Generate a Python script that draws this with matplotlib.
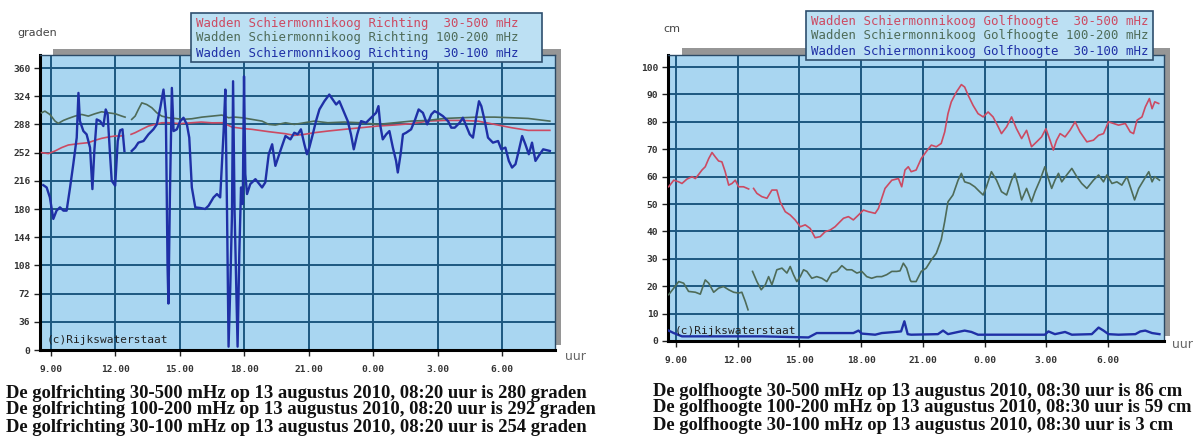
import numpy as np
import matplotlib
matplotlib.use("Agg")
import matplotlib.pyplot as plt
from matplotlib.patches import Rectangle

W, H = 1198, 446
nan = float("nan")

# x axis in hours; values above 24 are the next morning
HOUR_TICKS = [9, 12, 15, 18, 21, 24, 27, 30]
HOUR_LABELS = ["9.00", "12.00", "15.00", "18.00", "21.00", "0.00", "3.00", "6.00"]
DIR_TICKS = list(range(0, 361, 36))
HGT_TICKS = list(range(0, 101, 10))

DIR_LEGEND = ["Wadden Schiermonnikoog Richting  30-500 mHz",
              "Wadden Schiermonnikoog Richting 100-200 mHz",
              "Wadden Schiermonnikoog Richting  30-100 mHz"]
HGT_LEGEND = ["Wadden Schiermonnikoog Golfhoogte  30-500 mHz",
              "Wadden Schiermonnikoog Golfhoogte 100-200 mHz",
              "Wadden Schiermonnikoog Golfhoogte  30-100 mHz"]
DIR_CAPTION = ["De golfrichting 30-500 mHz op 13 augustus 2010, 08:20 uur is 280 graden",
               "De golfrichting 100-200 mHz op 13 augustus 2010, 08:20 uur is 292 graden",
               "De golfrichting 30-100 mHz op 13 augustus 2010, 08:20 uur is 254 graden"]
HGT_CAPTION = ["De golfhoogte 30-500 mHz op 13 augustus 2010, 08:30 uur is 86 cm",
               "De golfhoogte 100-200 mHz op 13 augustus 2010, 08:30 uur is 59 cm",
               "De golfhoogte 30-100 mHz op 13 augustus 2010, 08:30 uur is 3 cm"]

# wave direction (graden), (hour, value) pairs, nan = gap in the record
DIR_30_500 = [
    (8.56, 252.0), (8.88, 250.7), (9.19, 254.1), (9.50, 258.4), (9.81, 261.7),
    (10.28, 263.4), (10.74, 264.7), (11.05, 267.7), (11.36, 270.2), (11.67, 271.9),
    (11.99, 273.2), (12.22, 273.2), (12.37, 273.6), (12.55, nan), (12.73, 275.3),
    (12.92, 277.4), (13.23, 281.7), (13.54, 285.9), (13.85, 288.0), (14.16, 290.1),
    (14.47, 290.1), (15.0, 289.0), (15.5, 290.0), (16.0, 291.0), (16.5, 290.0),
    (17.0, 290.1), (17.43, 284.6), (17.90, 282.9), (18.36, 281.7), (19.14, 278.7),
    (19.92, 276.1), (20.33, 274.0), (20.80, 275.3), (21.26, 277.4), (21.89, 279.5),
    (22.66, 281.7), (23.44, 283.8), (24.22, 285.9), (25.00, 287.2), (25.77, 288.9),
    (26.55, 292.2), (27.33, 293.1), (28.11, 293.1), (28.88, 292.2), (29.66, 288.0),
    (30.44, 283.8), (31.22, 280.4), (32.23, 280.4)]
DIR_100_200 = [
    (8.56, 302.8), (8.72, 304.9), (8.95, 300.7), (9.19, 292.2), (9.34, 289.3),
    (9.58, 293.1), (9.81, 295.6), (10.12, 298.6), (10.43, 300.7), (10.74, 298.6),
    (11.05, 301.6), (11.36, 304.1), (11.67, 302.8), (11.99, 301.6), (12.30, 298.6),
    (12.45, 297.3), (12.6, nan), (12.76, 294.4), (12.92, 298.6), (13.07, 307.1),
    (13.23, 315.5), (13.46, 313.4), (13.70, 309.2), (13.93, 302.8), (14.16, 298.6),
    (14.47, 296.5), (14.79, 295.6), (15.10, 294.4), (15.56, 295.2), (16.03, 297.3),
    (16.50, 298.6), (16.96, 299.9), (17.27, 296.5), (17.58, 297.3), (17.90, 296.5),
    (18.36, 294.4), (18.83, 292.2), (19.14, 288.0), (19.45, 287.2), (19.92, 290.1),
    (20.33, 288.0), (20.80, 290.1), (21.26, 292.2), (21.89, 290.1), (22.66, 291.0),
    (23.44, 290.1), (24.22, 288.0), (25.00, 290.1), (25.77, 292.2), (26.55, 293.1),
    (27.33, 295.6), (28.11, 296.5), (28.88, 297.3), (29.66, 297.3), (30.44, 296.5),
    (31.22, 295.6), (32.23, 292.2)]
DIR_30_100 = [
    (8.64, 210.5), (8.80, 207.5), (8.95, 194.8), (9.11, 167.3), (9.26, 177.9),
    (9.42, 182.1), (9.58, 177.9), (9.73, 177.9), (9.89, 207.5), (10.04, 237.2),
    (10.20, 271.1), (10.28, 328.2), (10.35, 292.2), (10.51, 279.5), (10.66, 275.3),
    (10.82, 258.4), (10.93, 205.4), (11.02, 254.1), (11.13, 294.4), (11.29, 292.2),
    (11.44, 285.9), (11.55, 307.1), (11.64, 300.7), (11.75, 249.9), (11.83, 216.0),
    (11.99, 209.7), (12.11, 266.8), (12.22, 280.4), (12.33, 281.7), (12.42, 254.1),
    (12.6, nan), (12.76, 254.1), (12.92, 258.4), (13.07, 264.7), (13.31, 266.8),
    (13.54, 275.3), (13.77, 281.7), (13.93, 288.0), (14.09, 309.2), (14.24, 332.5),
    (14.35, 300.7), (14.43, 105.9), (14.47, 59.3), (14.54, 199.1), (14.63, 334.6),
    (14.71, 279.5), (14.86, 281.7), (15.02, 292.2), (15.17, 296.5), (15.33, 288.0),
    (15.44, 271.1), (15.56, 207.5), (15.72, 182.1), (15.95, 181.3), (16.18, 180.0),
    (16.34, 184.2), (16.57, 194.8), (16.73, 199.1), (16.88, 194.8), (17.04, 279.5),
    (17.12, 332.5), (17.20, 173.7), (17.27, 4.3), (17.35, 80.5), (17.43, 173.7),
    (17.48, 343.1), (17.55, 177.9), (17.63, 80.5), (17.69, 4.3), (17.77, 122.8),
    (17.85, 207.5), (17.93, 186.4), (17.99, 349.4), (18.05, 224.5), (18.13, 199.1),
    (18.28, 211.8), (18.52, 218.1), (18.83, 207.5), (18.98, 213.9), (19.14, 249.9),
    (19.30, 262.6), (19.45, 235.1), (19.68, 254.1), (19.92, 273.2), (20.15, 268.9),
    (20.33, 277.4), (20.49, 275.3), (20.64, 281.7), (20.80, 262.6), (20.92, 249.9),
    (21.03, 258.4), (21.19, 275.3), (21.34, 292.2), (21.50, 307.1), (21.73, 317.6),
    (21.96, 326.1), (22.12, 319.8), (22.28, 313.4), (22.43, 317.6), (22.66, 302.8),
    (22.82, 292.2), (22.97, 275.3), (23.10, 256.2), (23.26, 275.3), (23.44, 292.2),
    (23.67, 290.1), (23.91, 296.5), (24.14, 302.8), (24.25, 311.3), (24.34, 285.9),
    (24.45, 268.9), (24.61, 275.3), (24.76, 279.5), (24.92, 258.4), (25.07, 241.4),
    (25.15, 226.6), (25.28, 249.9), (25.39, 275.3), (25.54, 277.4), (25.77, 281.7),
    (25.96, 294.4), (26.12, 307.1), (26.32, 302.8), (26.52, 288.0), (26.71, 300.7),
    (26.86, 304.9), (27.02, 302.8), (27.25, 298.6), (27.49, 292.2), (27.64, 283.8),
    (27.80, 283.8), (28.03, 290.1), (28.18, 296.5), (28.34, 285.9), (28.50, 275.3),
    (28.65, 271.1), (28.81, 298.6), (28.93, 317.6), (29.04, 311.3), (29.20, 292.2),
    (29.35, 271.1), (29.58, 264.7), (29.82, 266.8), (29.97, 256.2), (30.16, 258.4),
    (30.32, 241.4), (30.47, 232.9), (30.63, 237.2), (30.78, 254.1), (30.94, 273.2),
    (31.09, 262.6), (31.25, 249.9), (31.40, 264.7), (31.56, 241.4), (31.76, 249.9),
    (31.92, 256.2), (32.23, 254.1)]

# wave height (cm)
HGT_30_500 = [
    (8.64, 56.3), (8.89, 58.7), (9.13, 58.1), (9.29, 57.5), (9.53, 59.1),
    (9.78, 60.0), (9.94, 59.3), (10.10, 60.8), (10.26, 62.4), (10.42, 63.6),
    (10.59, 66.6), (10.75, 68.8), (10.91, 67.2), (11.07, 65.7), (11.23, 65.4),
    (11.39, 61.8), (11.56, 56.9), (11.72, 57.5), (11.88, 58.7), (12.04, 56.3),
    (12.28, 56.3), (12.53, 55.5), (12.65, nan), (12.77, 55.7), (12.93, 53.9),
    (13.17, 52.7), (13.42, 52.1), (13.66, 55.1), (13.90, 55.1), (14.06, 50.8),
    (14.31, 47.2), (14.55, 46.0), (14.79, 44.2), (15.04, 41.7), (15.28, 42.4),
    (15.52, 41.1), (15.76, 37.7), (16.01, 38.1), (16.25, 39.9), (16.49, 40.5),
    (16.73, 41.7), (16.98, 43.6), (17.14, 44.8), (17.38, 45.4), (17.62, 44.2),
    (17.87, 46.0), (18.11, 47.8), (18.35, 47.2), (18.68, 46.6), (18.84, 48.4),
    (19.00, 52.1), (19.16, 55.7), (19.49, 58.7), (19.81, 59.3), (19.97, 56.3),
    (20.13, 62.4), (20.29, 63.6), (20.43, 61.8), (20.67, 62.4), (20.92, 66.6),
    (21.16, 69.1), (21.41, 71.5), (21.65, 70.9), (21.89, 72.1), (22.06, 76.3),
    (22.22, 83.0), (22.38, 87.3), (22.63, 90.9), (22.87, 93.6), (23.03, 92.7),
    (23.20, 89.7), (23.44, 86.0), (23.68, 83.0), (23.93, 81.8), (24.17, 83.6),
    (24.41, 81.8), (24.66, 78.2), (24.82, 75.7), (25.07, 78.2), (25.31, 81.8),
    (25.55, 77.5), (25.80, 73.9), (26.04, 76.9), (26.28, 70.9), (26.53, 72.7),
    (26.77, 74.5), (26.98, 77.5), (27.18, 73.3), (27.34, 69.7), (27.50, 73.3),
    (27.67, 75.7), (27.91, 74.5), (28.15, 76.9), (28.40, 80.0), (28.64, 76.3),
    (28.97, 72.7), (29.29, 73.3), (29.54, 75.1), (29.78, 75.7), (30.02, 80.0),
    (30.27, 79.4), (30.51, 78.8), (30.84, 79.4), (31.08, 76.3), (31.24, 75.7),
    (31.41, 80.6), (31.65, 81.8), (31.81, 85.4), (32.01, 88.5), (32.14, 84.8),
    (32.27, 87.3), (32.46, 86.7)]
HGT_100_200 = [
    (8.64, 16.9), (8.89, 19.3), (9.13, 21.7), (9.37, 21.1), (9.61, 18.1),
    (9.94, 17.8), (10.18, 17.1), (10.42, 22.3), (10.59, 21.1), (10.83, 17.8),
    (11.07, 19.3), (11.31, 19.9), (11.56, 18.7), (11.80, 17.8), (12.04, 17.5),
    (12.20, 17.8), (12.37, 14.4), (12.50, 11.4), (12.6, nan), (12.72, 25.4),
    (12.93, 21.7), (13.14, 18.7), (13.34, 20.5), (13.50, 23.5), (13.66, 20.5),
    (13.90, 26.0), (14.15, 26.6), (14.39, 24.8), (14.55, 27.2), (14.71, 24.2),
    (14.87, 21.7), (15.04, 23.5), (15.20, 26.0), (15.36, 25.4), (15.60, 22.9),
    (15.84, 23.5), (16.09, 22.9), (16.33, 21.7), (16.57, 24.8), (16.82, 25.4),
    (17.06, 27.5), (17.30, 26.0), (17.54, 26.0), (17.79, 24.8), (18.03, 25.4),
    (18.27, 23.5), (18.51, 22.9), (18.76, 23.5), (19.00, 23.5), (19.24, 24.2),
    (19.49, 25.4), (19.73, 25.4), (19.89, 25.6), (20.05, 28.4), (20.21, 26.6),
    (20.38, 22.3), (20.43, 21.7), (20.67, 21.7), (20.92, 25.4), (21.16, 26.6),
    (21.41, 29.6), (21.65, 32.0), (21.89, 36.9), (22.06, 43.6), (22.22, 50.8),
    (22.46, 53.3), (22.71, 58.7), (22.87, 61.2), (23.03, 58.1), (23.28, 57.5),
    (23.52, 56.3), (23.76, 54.5), (23.93, 53.3), (24.09, 56.3), (24.33, 61.8),
    (24.58, 58.7), (24.82, 54.5), (25.07, 53.3), (25.31, 58.7), (25.47, 61.2),
    (25.63, 56.9), (25.80, 51.5), (26.04, 55.7), (26.28, 50.8), (26.45, 54.5),
    (26.69, 58.7), (26.93, 63.6), (27.10, 59.3), (27.26, 55.7), (27.42, 58.7),
    (27.59, 61.2), (27.75, 58.1), (27.99, 60.6), (28.24, 63.0), (28.48, 60.0),
    (28.72, 57.5), (28.97, 55.7), (29.29, 58.7), (29.54, 60.6), (29.78, 58.1),
    (29.94, 60.6), (30.19, 57.5), (30.43, 58.1), (30.67, 56.9), (30.92, 60.0),
    (31.16, 54.5), (31.29, 51.5), (31.49, 55.7), (31.73, 58.7), (31.98, 61.8),
    (32.14, 58.1), (32.27, 60.0), (32.50, 58.7)]
HGT_30_100 = [
    (8.64, 3.8), (8.89, 2.9), (9.29, 1.7), (10.75, 1.7), (13.17, 1.7),
    (15.44, 1.3), (15.84, 2.9), (17.62, 2.9), (17.87, 3.8), (18.03, 2.7),
    (18.68, 2.3), (19.00, 2.9), (19.65, 3.3), (19.94, 3.5), (20.10, 7.2),
    (20.26, 2.5), (20.43, 2.3), (21.73, 2.5), (21.98, 3.8), (22.22, 2.5),
    (22.71, 3.3), (23.03, 3.8), (23.36, 3.3), (23.68, 2.3), (26.93, 2.3),
    (27.10, 3.5), (27.42, 2.5), (27.91, 3.3), (28.24, 2.3), (29.21, 2.5),
    (29.54, 4.9), (29.78, 3.8), (30.02, 2.5), (30.51, 2.3), (31.33, 2.5),
    (31.57, 3.5), (31.81, 3.8), (32.14, 2.9), (32.50, 2.5)]

BG = "#A9D6F1"
GRID = "#1D5880"
COLORS = ["#CC4A62", "#4E6B58", "#1F30A6"]
WIDTHS = [1.2, 1.2, 1.7]
MONO = "DejaVu Sans Mono"


def frac(x0, y0, x1, y1):
    """pixel box (top-left origin) -> figure fraction rect"""
    return [x0 / W, 1 - y1 / H, (x1 - x0) / W, (y1 - y0) / H]


def fig_rect(fig, box, **kw):
    l, b, w, h = frac(*box)
    fig.add_artist(Rectangle((l, b), w, h, transform=fig.transFigure, **kw))


def ftext(fig, x, y, s, **kw):
    fig.text(x / W, 1 - y / H, s, **kw)


def panel(fig, box, shadow, xlim, ylim, yticks, series, unit, unit_xy,
          uur_xy, copy_xy, leg_box, leg_lines, cap_x, cap_y):
    fig_rect(fig, shadow, facecolor="#969696", edgecolor="none", zorder=-1)

    ax = fig.add_axes(frac(*box))
    ax.set_facecolor(BG)
    ax.set_xlim(*xlim)
    ax.set_ylim(*ylim)
    ax.set_xticks(HOUR_TICKS)
    ax.set_xticklabels(HOUR_LABELS)
    ax.set_yticks(yticks)
    ax.grid(True, color=GRID, linewidth=1.4)
    ax.set_axisbelow(True)

    for pairs, color, lw in zip(series, COLORS, WIDTHS):
        arr = np.array(pairs)
        ax.plot(arr[:, 0], arr[:, 1], color=color, linewidth=lw, zorder=3)

    ax.tick_params(length=4, width=1.0, color="#222222",
                   labelsize=6.8, labelcolor="#333333")
    ax.tick_params(axis="x", pad=7)
    ax.tick_params(axis="y", pad=3)
    for lab in ax.get_xticklabels() + ax.get_yticklabels():
        lab.set_fontfamily(MONO)
        lab.set_fontweight("bold")
    for side in ("left", "bottom"):
        ax.spines[side].set_linewidth(2.2)
        ax.spines[side].set_color("black")
    for side in ("top", "right"):
        ax.spines[side].set_linewidth(1.0)
        ax.spines[side].set_color("#2B4A66")

    ax.text(copy_xy[0], copy_xy[1], "(c)Rijkswaterstaat", transform=ax.transAxes,
            family=MONO, fontsize=8, color="#222222", va="center", zorder=4)

    ftext(fig, unit_xy[0], unit_xy[1], unit, family="DejaVu Sans", fontsize=8,
          color="#444444", va="center")
    ftext(fig, uur_xy[0], uur_xy[1], "uur", family="DejaVu Sans", fontsize=9,
          color="#666666", va="center")

    fig_rect(fig, leg_box, facecolor="#BCE0F3", edgecolor="#2E4F6E",
             linewidth=1.2, zorder=5)
    for i, (line, color) in enumerate(zip(leg_lines, COLORS)):
        ftext(fig, leg_box[0] + 5, leg_box[1] + 10 + 15 * i, line, family=MONO,
              fontsize=8.9, color=color, va="center", zorder=6)

    for i, line in enumerate(cap_y[1]):
        ftext(fig, cap_x, cap_y[0] + 17 * i, line, family="Liberation Serif",
              fontweight="bold", fontsize=13.4, color="#111111", va="center")
    return ax


fig = plt.figure(figsize=(W / 100, H / 100), dpi=100)
fig.patch.set_facecolor("white")

panel(fig, box=(40, 55, 555, 350), shadow=(53, 49, 561, 345),
      xlim=(8.49, 32.47), ylim=(0, 376.6), yticks=DIR_TICKS,
      series=[DIR_30_500, DIR_100_200, DIR_30_100], unit="graden",
      unit_xy=(17, 33), uur_xy=(565, 356), copy_xy=(0.013, 0.035),
      leg_box=(191, 13, 542, 62), leg_lines=DIR_LEGEND,
      cap_x=6, cap_y=(393, DIR_CAPTION))

panel(fig, box=(668, 55, 1164, 341), shadow=(682, 48, 1170, 336),
      xlim=(8.61, 32.72), ylim=(0, 104.4), yticks=HGT_TICKS,
      series=[HGT_30_500, HGT_100_200, HGT_30_100], unit="cm",
      unit_xy=(663, 29), uur_xy=(1172, 345), copy_xy=(0.013, 0.035),
      leg_box=(806, 11, 1153, 60), leg_lines=HGT_LEGEND,
      cap_x=653, cap_y=(391, HGT_CAPTION))

fig.savefig("out.png", dpi=100, facecolor="white")
